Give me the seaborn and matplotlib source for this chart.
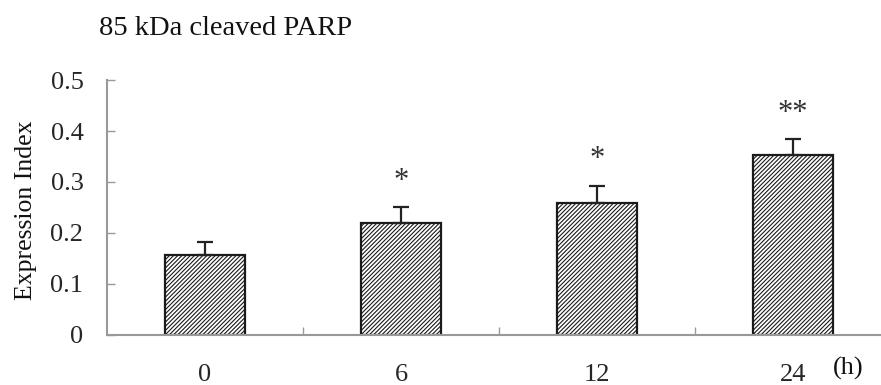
import matplotlib
matplotlib.use("Agg")
import matplotlib.pyplot as plt
import seaborn as sns
import pandas as pd

# Data
time_points = ["0", "6", "12", "24"]
expression = [0.157, 0.220, 0.259, 0.353]
sem_upper = [0.025, 0.030, 0.034, 0.031]
significance = ["", "*", "*", "**"]
y_ticks = [0, 0.1, 0.2, 0.3, 0.4, 0.5]
y_tick_labels = ["0", "0.1", "0.2", "0.3", "0.4", "0.5"]

sns.set_style("white")
plt.rcParams["font.family"] = ["Liberation Serif", "DejaVu Serif"]
plt.rcParams["hatch.linewidth"] = 0.8

df = pd.DataFrame({"time": time_points, "value": expression})

fig = plt.figure(figsize=(8.81, 3.85), dpi=100)
ax = fig.add_axes([0.1215, 0.1299, 1 - 0.1215, 0.7922 - 0.1299])

sns.barplot(data=df, x="time", y="value", order=time_points, color="white",
            edgecolor="#1a1a1a", linewidth=1.6, width=0.41, errorbar=None,
            hatch="////////", ax=ax)

# upper-only error bars
ax.errorbar(range(len(time_points)), expression,
            yerr=[[0] * len(sem_upper), sem_upper], fmt="none",
            ecolor="#222222", elinewidth=1.6, capsize=6, capthick=1.6)

for i, (v, e, s) in enumerate(zip(expression, sem_upper, significance)):
    if s:
        ax.text(i, v + e + 0.022, s, ha="center", va="bottom", fontsize=22,
                color="#333333")

ax.set_xlim(-0.5, 3.449)
ax.set_ylim(0, 0.5)
ax.set_yticks(y_ticks)
ax.set_yticklabels(y_tick_labels, fontsize=19)
ax.set_xticks(range(len(time_points)))
ax.set_xticklabels(time_points, fontsize=19)
ax.tick_params(axis="x", which="major", bottom=False, length=0, pad=21)
ax.tick_params(axis="y", left=True, direction="in", length=6, width=1.0,
               color="#999999", pad=17)
# separators between groups on the x axis
ax.set_xticks([0.5, 1.5, 2.5], minor=True)
ax.tick_params(axis="x", which="minor", bottom=True, direction="in",
               length=6, width=1.0, color="#999999")

for side in ("top", "right"):
    ax.spines[side].set_visible(False)
for side in ("left", "bottom"):
    ax.spines[side].set_color("#999999")
    ax.spines[side].set_linewidth(1.5)

ax.set_xlabel("")
ax.set_ylabel("")

fig.text(0.112, 0.927, "85 kDa cleaved PARP", fontsize=20.5, ha="left",
         va="center", color="#111111")
fig.text(0.030, 0.4545, "Expression Index", fontsize=18.5, rotation=90,
         ha="center", va="center", color="#111111")
fig.text(0.963, 0.042, "(h)", fontsize=19, ha="center", va="center",
         color="#111111")

fig.savefig("out.png", dpi=100)
